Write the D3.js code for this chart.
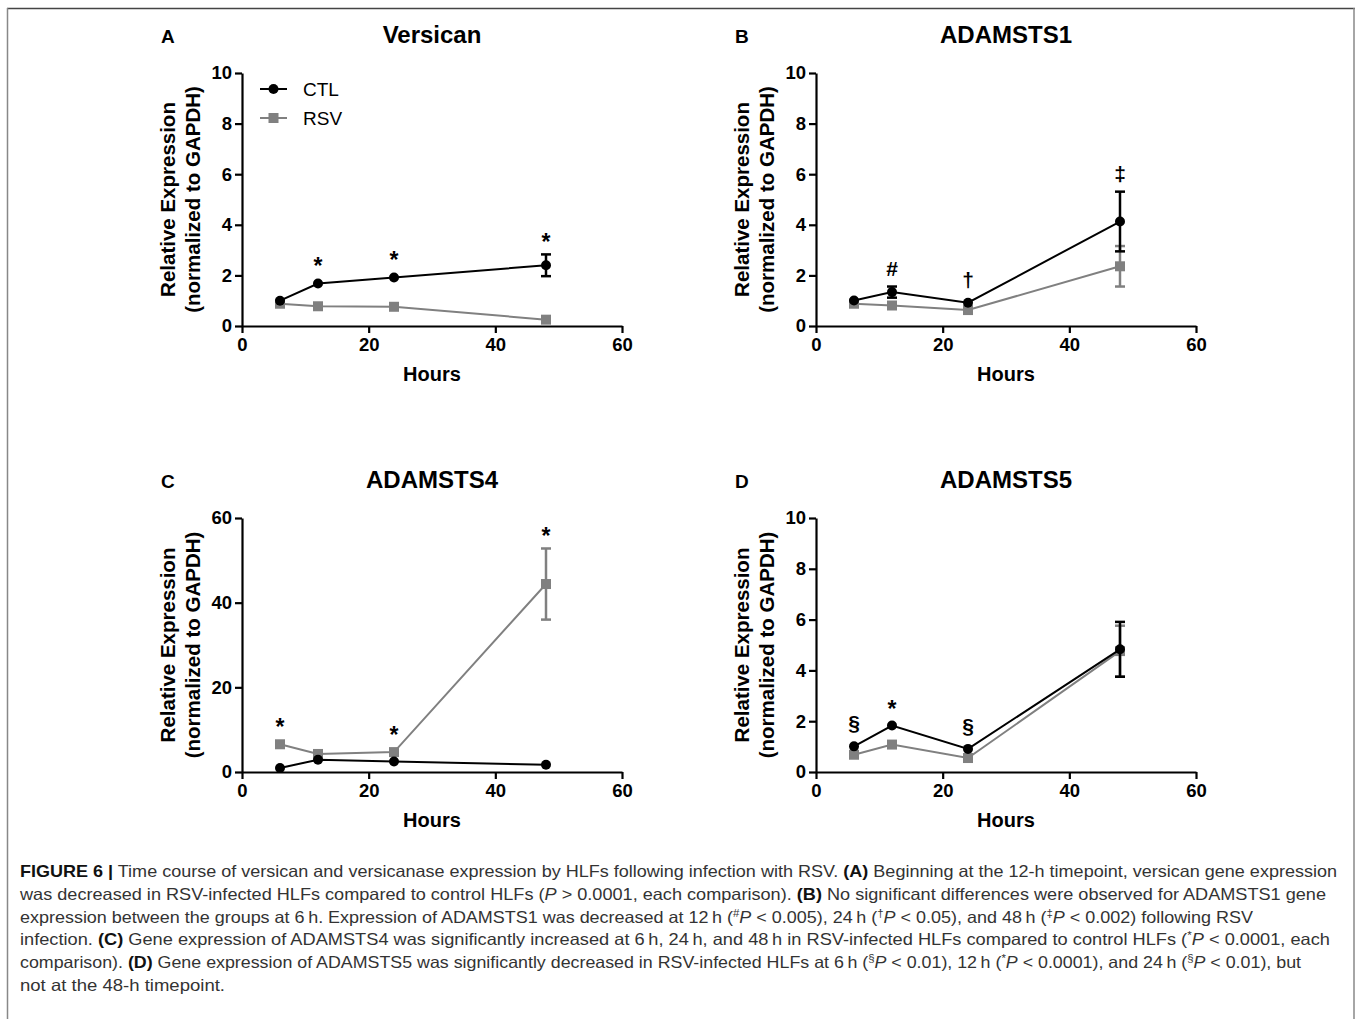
<!DOCTYPE html>
<html>
<head>
<meta charset="utf-8">
<script src="https://cdn.jsdelivr.net/npm/d3@7"></script>
<style>
    body { margin: 0; background: #fff; }
    svg text { font-family: "Liberation Sans", Arial, sans-serif; }
</style>
</head>
<body>
<script>

// values
const hours = [6, 12, 24, 48]
const xTicks = [0, 20, 40, 60]
const yTicksSmall = [0, 2, 4, 6, 8, 10]
const yTicksLarge = [0, 20, 40, 60]

const versicanCTL = [1.0, 1.68, 1.92, 2.4]
const versicanCTLErr = [0, 0, 0, 0.43]
const versicanRSV = [0.88, 0.78, 0.76, 0.25]
const versicanRSVErr = [0, 0, 0, 0]
const versicanMarks = [null, '*', '*', '*']

const adamts1CTL = [1.01, 1.34, 0.92, 4.13]
const adamts1CTLErr = [0, 0.22, 0, 1.18]
const adamts1RSV = [0.88, 0.81, 0.63, 2.36]
const adamts1RSVErr = [0, 0, 0, 0.8]
const adamts1Marks = [null, '#', '†', '‡']

const adamts4CTL = [0.95, 2.9, 2.5, 1.7]
const adamts4CTLErr = [0, 0, 0, 0]
const adamts4RSV = [6.55, 4.26, 4.7, 44.4]
const adamts4RSVErr = [0, 0, 0, 8.4]
const adamts4Marks = ['*', null, '*', '*']

const adamts5CTL = [1.01, 1.83, 0.91, 4.83]
const adamts5CTLErr = [0, 0, 0, 1.08]
const adamts5RSV = [0.68, 1.08, 0.55, 4.76]
const adamts5RSVErr = [0, 0, 0, 1.0]
const adamts5Marks = ['§', '*', '§', null]

const seriesNames = ['CTL', 'RSV']
const seriesColours = {CTL: '#000000', RSV: '#808080'}

const captionLines = [
    [['b', 'FIGURE 6 |'], ['', ' Time course of versican and versicanase expression by HLFs following infection with RSV. '], ['b', '(A)'], ['', ' Beginning at the 12-h timepoint, versican gene expression']],
    [['', 'was decreased in RSV-infected HLFs compared to control HLFs ('], ['i', 'P'], ['', ' > 0.0001, each comparison). '], ['b', '(B)'], ['', ' No significant differences were observed for ADAMSTS1 gene']],
    [['', 'expression between the groups at 6\u2009h. Expression of ADAMSTS1 was decreased at 12\u2009h ('], ['s', '#'], ['i', 'P'], ['', ' < 0.005), 24\u2009h ('], ['s', '†'], ['i', 'P'], ['', ' < 0.05), and 48\u2009h ('], ['s', '‡'], ['i', 'P'], ['', ' < 0.002) following RSV']],
    [['', 'infection. '], ['b', '(C)'], ['', ' Gene expression of ADAMSTS4 was significantly increased at 6\u2009h, 24\u2009h, and 48\u2009h in RSV-infected HLFs compared to control HLFs ('], ['s', '*'], ['i', 'P'], ['', ' < 0.0001, each']],
    [['', 'comparison). '], ['b', '(D)'], ['', ' Gene expression of ADAMSTS5 was significantly decreased in RSV-infected HLFs at 6\u2009h ('], ['s', '§'], ['i', 'P'], ['', ' < 0.01), 12\u2009h ('], ['s', '*'], ['i', 'P'], ['', ' < 0.0001), and 24\u2009h ('], ['s', '§'], ['i', 'P'], ['', ' < 0.01), but']],
    [['', 'not at the 48-h timepoint.']]
]
const captionLineEnds = [1337, 1326, 1253, 1330, 1301, 225]


window.onload = function(){
    const svg = d3.select('body').append('svg')
        .attr('width', 1357)
        .attr('height', 1019)

    frame.draw(svg)

    const panels = [
        new panel('A', 'Versican', versicanCTL, versicanCTLErr, versicanRSV, versicanRSVErr, versicanMarks, yTicksSmall, true),
        new panel('B', 'ADAMSTS1', adamts1CTL, adamts1CTLErr, adamts1RSV, adamts1RSVErr, adamts1Marks, yTicksSmall, false),
        new panel('C', 'ADAMSTS4', adamts4CTL, adamts4CTLErr, adamts4RSV, adamts4RSVErr, adamts4Marks, yTicksLarge, false),
        new panel('D', 'ADAMSTS5', adamts5CTL, adamts5CTLErr, adamts5RSV, adamts5RSVErr, adamts5Marks, yTicksSmall, false)
    ]
    const boxes = [
        {left: 242, top: 73, width: 380, height: 253},
        {left: 816, top: 73, width: 380, height: 253},
        {left: 242, top: 518, width: 380, height: 254},
        {left: 816, top: 518, width: 380, height: 254}
    ]
    panels.forEach((p, i) => p.render(svg, boxes[i]))

    caption.draw(svg)
}


class frame {
    static draw(svg){
        svg.append('line')
            .attr('x1', 7).attr('x2', 1355).attr('y1', 8.5).attr('y2', 8.5)
            .attr('stroke', '#444').attr('stroke-width', 1.5)
        svg.append('line')
            .attr('x1', 7.5).attr('x2', 7.5).attr('y1', 8).attr('y2', 1019)
            .attr('stroke', '#888').attr('stroke-width', 1.5)
        svg.append('line')
            .attr('x1', 1354).attr('x2', 1354).attr('y1', 8).attr('y2', 1019)
            .attr('stroke', '#888').attr('stroke-width', 1.5)
    }
}


class panel {
    constructor(letter, title, ctl, ctlErr, rsv, rsvErr, marks, yTicks, legend){
        this.letter = letter
        this.title = title
        this.series = [
            {name: 'CTL', values: ctl, errors: ctlErr},
            {name: 'RSV', values: rsv, errors: rsvErr}
        ]
        this.marks = marks
        this.yTicks = yTicks
        this.legend = legend
    }

    render(svg, box){
        const g = svg.append('g').attr('transform', d3Helper.getTranslateString(box.left, box.top))

        const x = d3.scaleLinear().domain([0, 60]).range([0, box.width])
        const y = d3.scaleLinear().domain([0, d3.max(this.yTicks)]).range([box.height, 0])

        // titles
        g.append('text')
            .attr('x', -81).attr('y', -30)
            .style('font-size', '19px').style('font-weight', 'bold')
            .text(this.letter)
        g.append('text')
            .attr('x', box.width / 2).attr('y', -30)
            .attr('text-anchor', 'middle')
            .style('font-size', '24px').style('font-weight', 'bold')
            .text(this.title)

        // axes
        const xAxis = g.append('g')
            .attr('transform', d3Helper.getTranslateString(0, box.height))
            .call(d3.axisBottom(x).tickValues(xTicks).tickSize(7).tickSizeOuter(0).tickPadding(5))
        const yAxis = g.append('g')
            .call(d3.axisLeft(y).tickValues(this.yTicks).tickSize(7).tickSizeOuter(0).tickPadding(3))
        ;[xAxis, yAxis].forEach(a => {
            a.selectAll('path, line').attr('stroke', '#000').attr('stroke-width', 2.2)
            a.selectAll('text')
                .attr('fill', '#000')
                .style('font-size', '18.5px').style('font-weight', 'bold')
                .style('font-family', '"Liberation Sans", Arial, sans-serif')
        })

        g.append('text')
            .attr('x', box.width / 2).attr('y', box.height + 55)
            .attr('text-anchor', 'middle')
            .style('font-size', '20px').style('font-weight', 'bold')
            .text('Hours')

        const yLabel = g.append('text')
            .attr('transform', 'rotate(-90)')
            .attr('text-anchor', 'middle')
            .style('font-size', '20.5px').style('font-weight', 'bold')
        yLabel.append('tspan').attr('x', -box.height / 2).attr('y', -67).text('Relative Expression')
        yLabel.append('tspan').attr('x', -box.height / 2).attr('y', -42).text('(normalized to GAPDH)')

        // series, RSV underneath CTL
        const line = d3.line().x((d, i) => x(hours[i])).y(d => y(d))
        this.series.slice().reverse().forEach(s => {
            const colour = seriesColours[s.name]
            const sg = g.append('g')

            sg.selectAll('g.err')
                .data(s.values.map((v, i) => ({h: hours[i], v: v, e: s.errors[i]})).filter(d => d.e > 0))
                .join('g')
                .attr('class', 'err')
                .each(function(d){
                    const eg = d3.select(this)
                    eg.append('line')
                        .attr('x1', x(d.h)).attr('x2', x(d.h))
                        .attr('y1', y(d.v - d.e)).attr('y2', y(d.v + d.e))
                    eg.append('line')
                        .attr('x1', x(d.h) - 5).attr('x2', x(d.h) + 5)
                        .attr('y1', y(d.v + d.e)).attr('y2', y(d.v + d.e))
                    eg.append('line')
                        .attr('x1', x(d.h) - 5).attr('x2', x(d.h) + 5)
                        .attr('y1', y(d.v - d.e)).attr('y2', y(d.v - d.e))
                })
                .selectAll('line')
                .attr('stroke', colour).attr('stroke-width', 2.5)

            sg.append('path')
                .datum(s.values)
                .attr('d', line)
                .attr('fill', 'none')
                .attr('stroke', colour)
                .attr('stroke-width', 2)

            const pts = sg.selectAll('.pt')
                .data(s.values)
                .join(s.name === 'CTL' ? 'circle' : 'rect')
                .attr('class', 'pt')
                .attr('fill', colour)
            if(s.name === 'CTL'){
                pts.attr('cx', (d, i) => x(hours[i])).attr('cy', d => y(d)).attr('r', 5)
            } else {
                pts.attr('x', (d, i) => x(hours[i]) - 5).attr('y', d => y(d) - 5)
                    .attr('width', 10).attr('height', 10)
            }
        })

        // significance symbols above the highest mark at each timepoint
        const series = this.series
        g.selectAll('text.sig')
            .data(this.marks.map((m, i) => ({m: m, i: i})).filter(d => d.m))
            .join('text')
            .attr('class', 'sig')
            .attr('x', d => x(hours[d.i]))
            .attr('y', d => {
                const top = d3.min(series, s => y(s.values[d.i] + s.errors[d.i]) - (s.errors[d.i] > 0 ? 0 : 5))
                return top - (d.m === '*' ? 4 : 11)
            })
            .attr('text-anchor', 'middle')
            .style('font-size', d => d.m === '*' ? '23px' : '21px')
            .style('font-weight', 'bold')
            .text(d => d.m)

        if(this.legend){
            this.renderLegend(g)
        }
    }

    renderLegend(g){
        const lg = g.append('g').attr('transform', d3Helper.getTranslateString(18, 16))
        seriesNames.forEach((name, i) => {
            const row = lg.append('g').attr('transform', d3Helper.getTranslateString(0, i * 29))
            const colour = seriesColours[name]
            row.append('line')
                .attr('x1', 0).attr('x2', 27)
                .attr('stroke', colour).attr('stroke-width', 2)
            if(name === 'CTL'){
                row.append('circle').attr('cx', 13.5).attr('r', 5).attr('fill', colour)
            } else {
                row.append('rect').attr('x', 8.5).attr('y', -5).attr('width', 10).attr('height', 10).attr('fill', colour)
            }
            row.append('text')
                .attr('x', 43).attr('dy', '0.36em')
                .style('font-size', '19px')
                .text(name)
        })
    }
}


class caption {
    static draw(svg){
        const startX = 20
        captionLines.forEach((parts, li) => {
            const t = svg.append('text')
                .attr('x', startX)
                .attr('y', 877 + li * 22.8)
                .attr('fill', '#333')
                .style('font-size', '16.5px')
                .attr('textLength', captionLineEnds[li] - startX)
                .attr('lengthAdjust', 'spacingAndGlyphs')
            parts.forEach(p => {
                const ts = t.append('tspan').text(p[1])
                switch(p[0]){
                    case 'b':
                        ts.style('font-weight', 'bold').attr('fill', '#111')
                        break;
                    case 'i':
                        ts.style('font-style', 'italic')
                        break;
                    case 's':
                        ts.attr('baseline-shift', 'super').style('font-size', '10.5px')
                        break;
                }
            })
        })
    }
}


class d3Helper {
    static getTranslateString(x, y){
        return "translate(" + x + "," + y + ")"
    }
}
</script>
</body>
</html>
